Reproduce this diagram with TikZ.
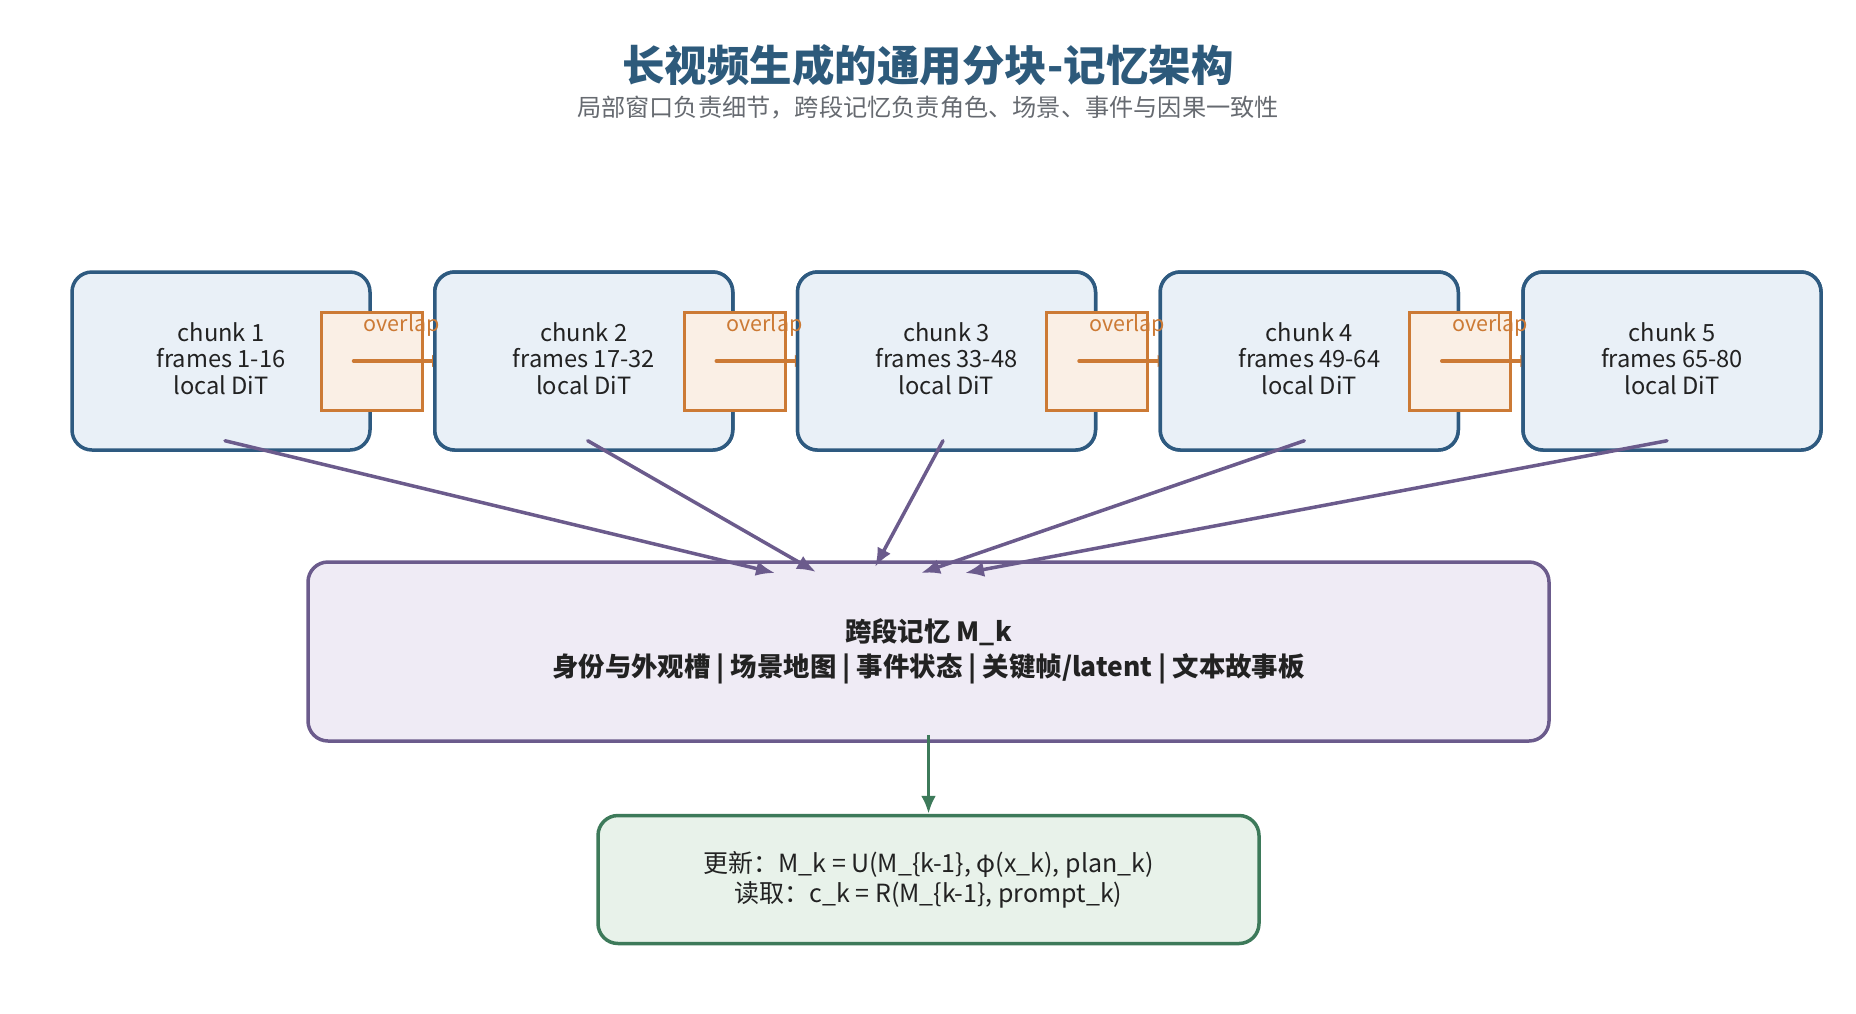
\documentclass[tikz,border=0pt]{standalone}
\usepackage{fontspec}
\setmainfont{Noto Sans CJK SC}
\usetikzlibrary{arrows.meta}
\definecolor{titleblue}{HTML}{2D5A7B}
\definecolor{subgray}{HTML}{666A70}
\definecolor{txt}{HTML}{222222}
\definecolor{chunkline}{HTML}{2E5A80}
\definecolor{chunkfill}{HTML}{E9F0F7}
\definecolor{ovline}{HTML}{CC7A35}
\definecolor{ovfill}{HTML}{FAEFE5}
\definecolor{memline}{HTML}{6B5B8C}
\definecolor{memfill}{HTML}{EFEBF5}
\definecolor{updline}{HTML}{3D7A5A}
\definecolor{updfill}{HTML}{E8F2EA}
% extra depth under the last text line, so the block sits a little higher
\newcommand{\chunkpad}{\rule[-5pt]{0pt}{5pt}}
\tikzset{
  chunkbox/.style={draw=chunkline, fill=chunkfill, line width=3.5pt, rounded corners=20pt,
    minimum width=298pt, minimum height=178pt, inner sep=0pt, align=center, text=txt,
    font=\fontsize{23.7}{26.5}\selectfont},
  ovbox/.style={draw=ovline, fill=ovfill, line width=3pt, minimum width=101pt,
    minimum height=98pt, inner sep=0pt},
  ovlabel/.style={text=ovline, font=\fontsize{21.5}{24}\selectfont, inner sep=0pt},
  ovarrow/.style={draw=ovline, line width=4pt, line cap=round, -{Latex[length=13pt,width=13pt]}},
  memarrow/.style={draw=memline, line width=3.5pt, line cap=round, -{Latex[length=19pt,width=15pt]}},
  membox/.style={draw=memline, fill=memfill, line width=3.5pt, rounded corners=20pt,
    minimum width=1241pt, minimum height=179pt, inner sep=0pt, align=center, text=txt,
    font=\fontsize{26.4}{35}\selectfont\bfseries},
  updbox/.style={draw=updline, fill=updfill, line width=3.5pt, rounded corners=20pt,
    minimum width=661pt, minimum height=128pt, inner sep=0pt, align=center, text=txt,
    font=\fontsize{25}{30}\selectfont},
  updarrow/.style={draw=updline, line width=3.5pt, -{Latex[length=18pt,width=15pt]}},
}
\begin{document}
\begin{tikzpicture}[x=1pt, y=-1pt]
\useasboundingbox (0,0) rectangle (1856,1013);

% heading
\node[text=titleblue, font=\fontsize{42.5}{50}\selectfont\bfseries] (title) at (928,65) {长视频生成的通用分块-记忆架构};
\node[text=subgray, font=\fontsize{24.2}{28}\selectfont] (subtitle) at (928,108) {局部窗口负责细节，跨段记忆负责角色、场景、事件与因果一致性};

% chunk row with overlap windows
\node[chunkbox] (c1) at (221,361) {chunk 1\\frames 1-16\\local DiT\chunkpad};
\node[ovbox] (o1) at (c1.east) {};
\coordinate (a1) at ([xshift=-18pt]o1.center);

\node[chunkbox] (c2) at (583.75,361) {};
\draw[ovarrow] (a1) -- ([xshift=12pt]c2.west);
\node[chunkbox] (c2) at (583.75,361) {chunk 2\\frames 17-32\\local DiT\chunkpad};
\node[ovbox] (o2) at (c2.east) {};
\coordinate (a2) at ([xshift=-18pt]o2.center);

\node[chunkbox] (c3) at (946.5,361) {};
\draw[ovarrow] (a2) -- ([xshift=12pt]c3.west);
\node[chunkbox] (c3) at (946.5,361) {chunk 3\\frames 33-48\\local DiT\chunkpad};
\node[ovbox] (o3) at (c3.east) {};
\coordinate (a3) at ([xshift=-18pt]o3.center);

\node[chunkbox] (c4) at (1309.25,361) {};
\draw[ovarrow] (a3) -- ([xshift=12pt]c4.west);
\node[chunkbox] (c4) at (1309.25,361) {chunk 4\\frames 49-64\\local DiT\chunkpad};
\node[ovbox] (o4) at (c4.east) {};
\coordinate (a4) at ([xshift=-18pt]o4.center);

\node[chunkbox] (c5) at (1672,361) {};
\draw[ovarrow] (a4) -- ([xshift=12pt]c5.west);
\node[chunkbox] (c5) at (1672,361) {chunk 5\\frames 65-80\\local DiT\chunkpad};

% overlap labels sit above the neighbouring chunk border
\foreach \i in {1,...,4} {
  \node[ovlabel] (l\i) at ([xshift=30pt,yshift=36pt]o\i.center) {overlap};
}

% cross-segment memory
\node[membox] (mem) at (928.5,651.5) {跨段记忆 M\_k\\身份与外观槽 | 场景地图 | 事件状态 | 关键帧/latent | 文本故事板};

% chunk -> memory
\coordinate (s1) at ([xshift=4pt,yshift=11pt]c1.south);
\coordinate (s2) at ([xshift=4pt,yshift=11pt]c2.south);
\coordinate (s3) at ([xshift=-3.5pt,yshift=11pt]c3.south);
\coordinate (s4) at ([xshift=-5pt,yshift=11pt]c4.south);
\coordinate (s5) at ([xshift=-5pt,yshift=11pt]c5.south);
\coordinate (t1) at (775,573);
\coordinate (t2) at (816,572);
\coordinate (t3) at (875,567);
\coordinate (t4) at (921,573);
\coordinate (t5) at (965,573);
\foreach \i in {1,...,5} {\draw[memarrow] (s\i) -- (t\i);}

% memory update / read
\node[updbox] (upd) at (928.5,879.5) {更新：M\_k = U(M\_\{k-1\}, φ(x\_k), plan\_k)\\读取：c\_k = R(M\_\{k-1\}, prompt\_k)};
\draw[updarrow] ([yshift=8pt]mem.south) -- (upd.north);
\end{tikzpicture}
\end{document}
